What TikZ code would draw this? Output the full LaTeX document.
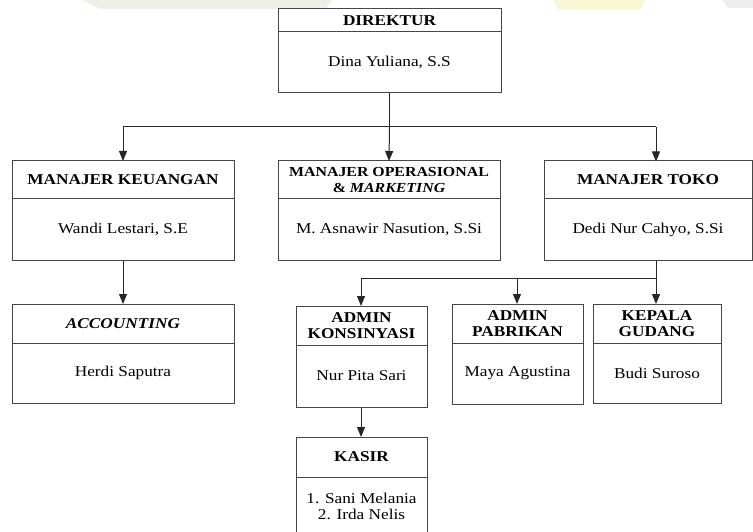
\documentclass[tikz,border=0pt]{standalone}
\usepackage{fontspec}
\setmainfont{Liberation Serif}[FakeStretch=1.15]
\usetikzlibrary{arrows.meta}
\definecolor{wmgreen}{RGB}{236,240,230}
\definecolor{wmyellow}{RGB}{250,246,214}
\definecolor{wmgray}{RGB}{238,238,238}
\tikzset{
  boxframe/.style={draw=black!72, line width=1pt, rectangle, inner sep=0pt},
  divider/.style={draw=black!72, line width=1pt},
  headtxt/.style={font=\fontsize{15}{16.7}\selectfont\bfseries, align=center, inner sep=0pt},
  bodytxt/.style={font=\fontsize{15}{16.7}\selectfont, align=center, inner sep=0pt},
  link/.style={draw=black!85, line width=1pt},
  arrowlink/.style={link, -{Triangle[length=10pt,width=8pt]}, shorten >=-0.5pt},
}
% #1 name, #2 left, #3 right, #4 top, #5 header line, #6 bottom, #7 header, #8 body
\newcommand\orgbox[8]{%
  \node[boxframe, minimum width={(#3-#2)*1pt}, minimum height={(#6-#4)*1pt}]
    (#1) at ({(#2+#3)/2},{(#4+#6)/2}) {};
  \draw[divider] (#2,#5) -- (#3,#5);
  \node[headtxt] (#1-h) at ({(#2+#3)/2},{(#4+#5)/2}) {#7};
  \node[bodytxt] (#1-b) at ({(#2+#3)/2},{(#5+#6)/2}) {#8};
}
\begin{document}
\begin{tikzpicture}[x=1pt,y=-1pt]
\useasboundingbox (0,0) rectangle (753,532);
\clip (0,0) rectangle (753,532);
% faint watermark at top edge
\fill[wmgreen] (82,0) -- (332,0) -- (326,9) -- (100,9) -- cycle;
\fill[wmyellow] (553,0) -- (645,0) -- (640,10) -- (558,10) -- cycle;
\fill[wmgray] (722,0) -- (753,0) -- (753,8) -- (728,8) -- cycle;

\orgbox{dir}{278}{501}{9}{32}{93}{DIREKTUR}{Dina Yuliana, S.S}
\orgbox{keu}{12}{234}{161}{199}{260}{MANAJER KEUANGAN}{Wandi Lestari, S.E}
\orgbox{ops}{278}{500}{161}{199}{260}{\fontsize{13.8}{15}\selectfont MANAJER OPERASIONAL\\\fontsize{13.8}{15}\selectfont\& \textit{MARKETING}}{M. Asnawir Nasution, S.Si}
\orgbox{tok}{544}{752}{161}{199}{260}{MANAJER TOKO}{Dedi Nur Cahyo, S.Si}
\orgbox{acc}{12}{234}{304}{343}{403}{\textit{ACCOUNTING}}{Herdi Saputra}
\orgbox{kon}{296}{427}{306}{345}{407}{ADMIN\\KONSINYASI}{Nur Pita Sari}
\orgbox{pab}{452}{583}{304}{343}{404}{ADMIN\\PABRIKAN}{Maya Agustina}
\orgbox{gud}{593}{721}{304}{343}{403}{KEPALA\\GUDANG}{Budi Suroso}
\orgbox{kas}{296}{427}{437}{477}{536}{KASIR}{1. Sani Melania\\2. Irda Nelis}

% junction coordinates
\coordinate (j1) at (dir.south |- 0,127);
\coordinate (j1l) at (keu.north |- 0,127);
\coordinate (j1r) at (tok.north -| 656,0);
\coordinate (j1rr) at (656,127);
\coordinate (j2) at (656,278);
\coordinate (j2l) at (361,278);
\coordinate (j2m) at (517,278);

\draw[link] (dir.south) -- (j1);
\draw[link] (j1l) -- (j1rr);
\draw[arrowlink] (j1l) -- (keu.north);
\draw[arrowlink] (j1) -- (ops.north);
\draw[arrowlink] (j1rr) -- (656,161);
\draw[arrowlink] (keu.south) -- (acc.north);
\draw[link] (tok.south -| 656,0) -- (j2);
\draw[link] (j2l) -- (j2);
\draw[arrowlink] (j2l) -- (j2l |- kon.north);
\draw[arrowlink] (j2m) -- (j2m |- pab.north);
\draw[arrowlink] (j2) -- (j2 |- gud.north);
\draw[arrowlink] (j2l |- kon.south) -- (j2l |- kas.north);
\end{tikzpicture}
\end{document}
